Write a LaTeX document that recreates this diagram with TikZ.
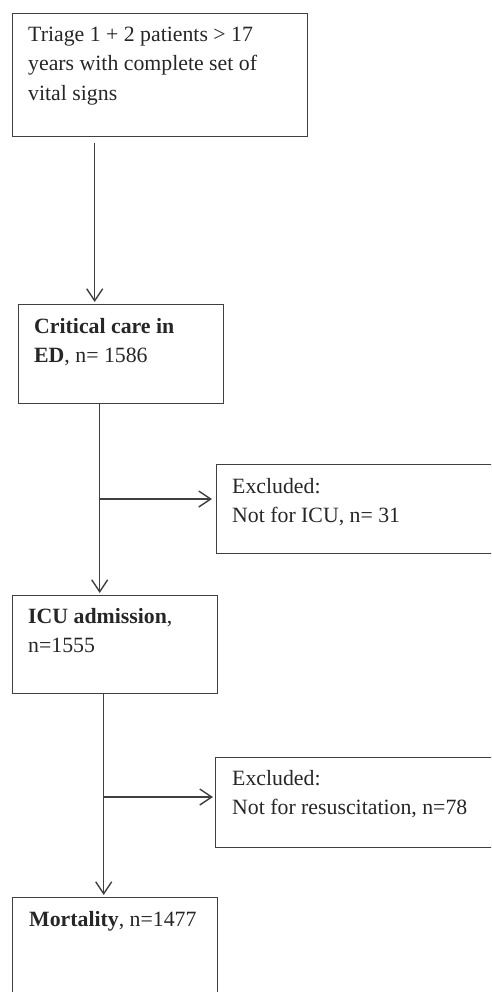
\documentclass[tikz,border=0pt]{standalone}
\usepackage{fontspec}
\setmainfont{Liberation Serif}
\usetikzlibrary{arrows.meta,positioning}

\begin{document}
\begin{tikzpicture}[x=1pt,y=-1pt,
        box/.style={draw=black!75, line width=1.4pt, anchor=north west, inner sep=0pt},
        txt/.style={anchor=base west, inner sep=0pt, align=flush left, text width=270pt, text=black!85, font=\fontsize{21.8}{29.5}\selectfont},
        arr/.style={draw=black!75, line width=1.4pt, -{Straight Barb[length=12pt,width=16pt]}}]
        % Flujo de pacientes
        \clip (0,0) rectangle (491,992);
        \node[box, minimum width=295pt, minimum height=123pt] (triage) at (12,13) {};
        \node[box, minimum width=205pt, minimum height=99pt] (crit) at (18,304) {};
        \node[box, minimum width=290pt, minimum height=89pt] (excl1) at (216,464) {};
        \node[box, minimum width=205pt, minimum height=98pt] (icu) at (12,595) {};
        \node[box, minimum width=290pt, minimum height=90pt] (excl2) at (215,757) {};
        \node[box, minimum width=205pt, minimum height=130pt] (mort) at (12,897) {};

        % textos
        \node[txt] (triagetxt) at (28,41.5) {Triage 1 + 2 patients > 17\\years with complete set of\\vital signs};
        \node[txt] (crittxt) at (34,333) {\textbf{Critical care in}\\\textbf{ED}, n= 1586};
        \node[txt] (excl1txt) at (232,493) {Excluded:\\Not for ICU, n= 31};
        \node[txt] (icutxt) at (28,623) {\textbf{ICU admission},\\n=1555};
        \node[txt] (excl2txt) at (232,785) {Excluded:\\Not for resuscitation, n=78};
        \node[txt] (morttxt) at (29,926) {\textbf{Mortality}, n=1477};

        \coordinate (b1) at (99,499);
        \coordinate (b2) at (103,797);

        \draw[arr, shorten <=6pt, shorten >=2pt] ([xshift=-65.5pt]triage.south) -- ([xshift=-26.5pt]crit.north);
        \draw[arr, shorten >=2pt] ([xshift=-21.5pt]crit.south) -- ([xshift=-15.5pt]icu.north);
        \draw[arr, shorten >=2pt] ([xshift=-11.5pt]icu.south) -- ([xshift=-11.5pt]mort.north);
        \draw[arr, shorten >=4pt] (b1) -- (b1 -| excl1.west);
        \draw[arr, shorten >=2pt] (b2) -- (b2 -| excl2.west);
    \end{tikzpicture}
\end{document}
